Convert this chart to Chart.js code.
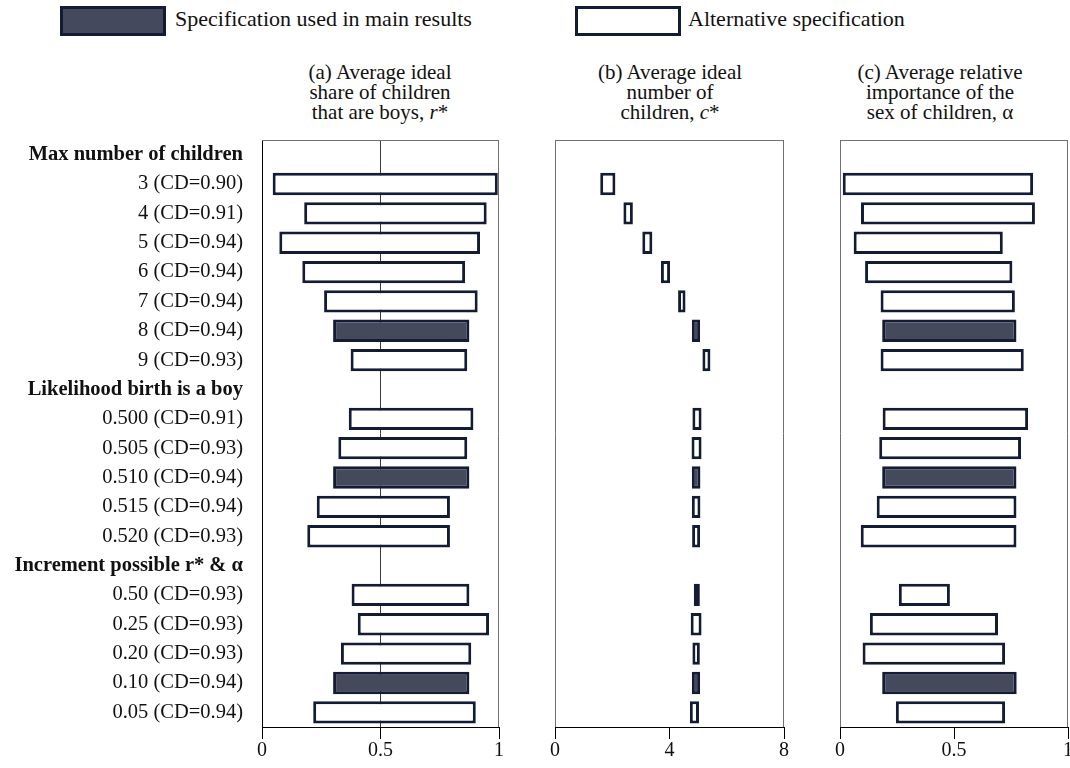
<!DOCTYPE html>
<html>
<head>
<meta charset="utf-8">
<title>Ideal sex composition and number of children: robustness of estimates</title>
<script src="https://cdn.jsdelivr.net/npm/chart.js@4.4.1/dist/chart.umd.min.js"></script>
<style>
  html, body { margin: 0; padding: 0; background: #fff; }
  body {
    width: 1070px; height: 768px; position: relative; overflow: hidden;
    font-family: 'Liberation Serif', 'Times New Roman', serif; color: #111;
  }
  canvas { position: absolute; top: 0; }
  .swatch {
    position: absolute; top: 6px; width: 106px; height: 30px;
    box-sizing: border-box; border: 3px solid #141b35;
  }
  .legend-text {
    position: absolute; top: 4px; height: 30px; line-height: 30px;
    font-size: 22px; white-space: nowrap;
  }
  .panel-title {
    position: absolute; top: 62px; width: 260px; margin-left: -130px;
    text-align: center; font-size: 21px; line-height: 20px;
  }
</style>
</head>
<body>

<div class="swatch" style="left:60px;background:#444a5b;"></div>
<div class="legend-text" style="left:175px;">Specification used in main results</div>
<div class="swatch" style="left:575px;background:#fff;"></div>
<div class="legend-text" style="left:688px;">Alternative specification</div>

<div class="panel-title" style="left:380px;">(a) Average ideal<br>share of children<br>that are boys, <i>r</i>*</div>
<div class="panel-title" style="left:670px;">(b) Average ideal<br>number of<br>children, <i>c</i>*</div>
<div class="panel-title" style="left:940px;">(c) Average relative<br>importance of the<br>sex of children, α</div>

<canvas id="panelShare" width="510" height="768" style="left:0px;"></canvas>
<canvas id="panelNumber" width="260" height="768" style="left:540px;"></canvas>
<canvas id="panelAlpha" width="270" height="768" style="left:820px;"></canvas>

<script>
// Row labels: three groups of alternative specifications, each with a bold header row
const rowLabels = [
  'Max number of children',
  '3 (CD=0.90)', '4 (CD=0.91)', '5 (CD=0.94)', '6 (CD=0.94)',
  '7 (CD=0.94)', '8 (CD=0.94)', '9 (CD=0.93)',
  'Likelihood birth is a boy',
  '0.500 (CD=0.91)', '0.505 (CD=0.93)', '0.510 (CD=0.94)',
  '0.515 (CD=0.94)', '0.520 (CD=0.93)',
  'Increment possible r* & α',
  '0.50 (CD=0.93)', '0.25 (CD=0.93)', '0.20 (CD=0.93)',
  '0.10 (CD=0.94)', '0.05 (CD=0.94)'
];
const headerRows = [0, 8, 14];
const mainSpecRows = [6, 11, 18];

// Ranges [low, high] for each row; header rows carry no bar
const shareBoys = [
  null,
  [0.045, 0.995], [0.178, 0.948], [0.073, 0.920], [0.170, 0.857],
  [0.262, 0.910], [0.300, 0.875], [0.374, 0.866],
  null,
  [0.366, 0.892], [0.322, 0.866], [0.300, 0.875], [0.231, 0.793], [0.191, 0.793],
  null,
  [0.378, 0.875], [0.404, 0.958], [0.333, 0.883], [0.300, 0.875], [0.216, 0.902]
];
const idealChildren = [
  null,
  [1.58, 2.11], [2.39, 2.72], [3.05, 3.40], [3.70, 4.02],
  [4.30, 4.56], [4.78, 5.07], [5.15, 5.43],
  null,
  [4.80, 5.12], [4.77, 5.12], [4.78, 5.08], [4.78, 5.08], [4.79, 5.07],
  null,
  [4.85, 5.06], [4.74, 5.12], [4.80, 5.06], [4.78, 5.07], [4.71, 5.03]
];
const sexImportance = [
  null,
  [0.012, 0.847], [0.092, 0.855], [0.060, 0.714], [0.110, 0.756],
  [0.178, 0.767], [0.185, 0.774], [0.178, 0.806],
  null,
  [0.187, 0.825], [0.172, 0.794], [0.185, 0.774], [0.161, 0.774], [0.091, 0.774],
  null,
  [0.258, 0.482], [0.131, 0.693], [0.099, 0.724], [0.185, 0.775], [0.245, 0.724]
];

// Axis ranges and tick steps for the three panels
const shareAxis = [0, 1, 0.5];
const childrenAxis = [0, 8, 4];
const alphaAxis = [0, 1, 0.5];

const FONT = "'Liberation Serif', 'Times New Roman', serif";
const DARK_FILL = '#444a5b';
const EDGE = '#141b35';
const FRAME = '#707070';

// Thin frame on the top / right (and optionally left) of each plot box
const framePlugin = {
  id: 'frame',
  afterDraw(chart, args, opts) {
    const { ctx, chartArea: a } = chart;
    ctx.save();
    ctx.strokeStyle = FRAME;
    ctx.lineWidth = 1;
    ctx.beginPath();
    ctx.moveTo(a.left, a.top + 0.5);
    ctx.lineTo(a.right, a.top + 0.5);
    ctx.moveTo(a.right - 0.5, a.top);
    ctx.lineTo(a.right - 0.5, a.bottom);
    if (opts.left) {
      ctx.moveTo(a.left + 0.5, a.top);
      ctx.lineTo(a.left + 0.5, a.bottom);
    }
    ctx.stroke();
    ctx.restore();
  }
};

function makePanel(id, values, axis, cfg) {
  const fills = rowLabels.map((_, i) => mainSpecRows.includes(i) ? DARK_FILL : '#ffffff');
  return new Chart(document.getElementById(id), {
    type: 'bar',
    data: {
      labels: rowLabels,
      datasets: [{
        data: values,
        backgroundColor: fills,
        borderColor: EDGE,
        borderWidth: 3,
        borderSkipped: false,
        barPercentage: 0.76,
        categoryPercentage: 1.0
      }]
    },
    plugins: [framePlugin],
    options: {
      indexAxis: 'y',
      responsive: false,
      animation: false,
      devicePixelRatio: 1,
      layout: { padding: cfg.padding },
      plugins: {
        legend: { display: false },
        tooltip: { enabled: false },
        frame: { left: cfg.frameLeft }
      },
      scales: {
        x: {
          type: 'linear',
          min: axis[0],
          max: axis[1],
          z: 1,
          ticks: {
            stepSize: axis[2],
            padding: 0,
            color: '#111',
            font: { family: FONT, size: 20 },
            callback: (v) => String(Math.round(v * 100) / 100)
          },
          grid: {
            drawOnChartArea: true,
            drawTicks: true,
            tickLength: 12,
            tickColor: '#000',
            lineWidth: 1,
            color: (c) => (cfg.midLine && c.tick && c.tick.value === cfg.midLine) ? '#3a3a3a' : 'rgba(0,0,0,0)'
          },
          border: { display: true, color: '#000', width: 1 },
          afterFit: (s) => { s.height = 41; }
        },
        y: {
          display: cfg.showRows,
          offset: true,
          ticks: {
            autoSkip: false,
            padding: 19,
            color: '#111',
            font: (c) => ({
              family: FONT,
              size: 20.5,
              weight: headerRows.includes(c.index) ? 'bold' : 'normal'
            })
          },
          grid: { display: false, drawTicks: false },
          border: { display: true, color: '#000', width: 1 },
          afterFit: (s) => { if (cfg.rowWidth) s.width = cfg.rowWidth; }
        }
      }
    }
  });
}

makePanel('panelShare', shareBoys, shareAxis, {
  padding: { top: 140, right: 11, left: 0, bottom: 0 },
  showRows: true, rowWidth: 262, midLine: 0.5, frameLeft: false
});
makePanel('panelNumber', idealChildren, childrenAxis, {
  padding: { top: 140, right: 16, left: 15, bottom: 0 },
  showRows: false, frameLeft: true
});
makePanel('panelAlpha', sexImportance, alphaAxis, {
  padding: { top: 140, right: 22, left: 20, bottom: 0 },
  showRows: false, frameLeft: true
});
</script>
</body>
</html>
